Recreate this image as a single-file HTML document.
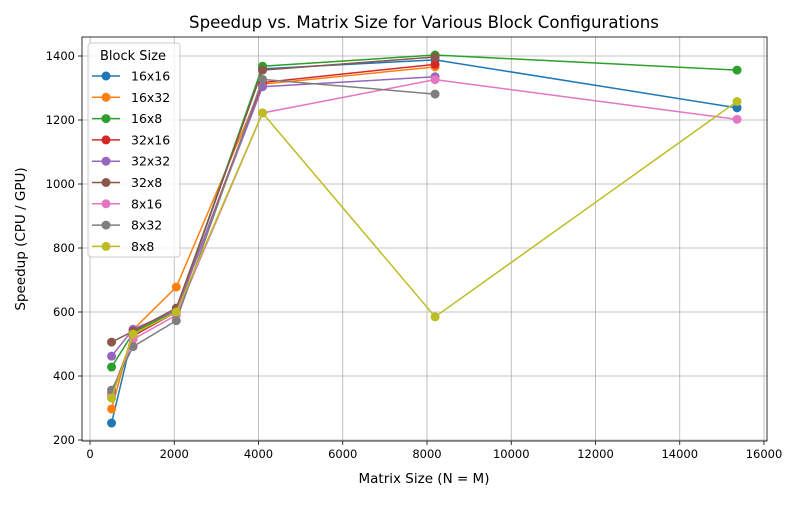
<!DOCTYPE html>
<html><head><meta charset="utf-8"><style>
body{margin:0;background:#fff;font-family:"Liberation Sans","DejaVu Sans",sans-serif}
svg text{font-family:"DejaVu Sans","Liberation Sans",sans-serif;fill:#000}
</style></head><body>
<svg id="chart" width="800" height="500" xmlns="http://www.w3.org/2000/svg">
<rect width="800" height="500" fill="#fff"/>
<g id="grid"></g>
<g id="series"></g>
<rect x="82" y="37" width="685" height="404" fill="none" stroke="#000" stroke-width="0.8"/>
<g id="ticks"></g>
<text x="424" y="28" font-size="16.6" text-anchor="middle">Speedup vs. Matrix Size for Various Block Configurations</text>
<text x="424" y="483" font-size="13.5" text-anchor="middle">Matrix Size (N = M)</text>
<text transform="translate(25,239) rotate(-90)" font-size="13.5" text-anchor="middle">Speedup (CPU / GPU)</text>
<g id="legend"></g>
</svg>
<script>
const sizes=[512,1024,2048,4096,8192,15360];
const names=["16x16","16x32","16x8","32x16","32x32","32x8","8x16","8x32","8x8"];
const colors=["#1f77b4","#ff7f0e","#2ca02c","#d62728","#9467bd","#8c564b","#e377c2","#7f7f7f","#bcbd22"];
const s16x16=[253,535,605,1360,1388,1238];
const s16x32=[297,545,678,1312,1366];
const s16x8=[428,535,605,1368,1403,1356];
const s32x16=[344,525,600,1317,1374];
const s32x32=[462,546,605,1304,1335];
const s32x8=[506,540,612,1356,1397];
const s8x16=[338,515,590,1222,1326,1202];
const s8x32=[356,492,573,1327,1281];
const s8x8=[331,531,600,1222,585,1258];
const seriesData=[s16x16,s16x32,s16x8,s32x16,s32x32,s32x8,s8x16,s8x32,s8x8];
const xTicks=[0,2000,4000,6000,8000,10000,12000,14000,16000];
const yTicks=[200,400,600,800,1000,1200,1400];
const X=v=>90+v*674/16000;
const Y=v=>440-(v-200)*0.32;
const NS="http://www.w3.org/2000/svg";
function mk(t,a,p){const e=document.createElementNS(NS,t);for(const k in a)e.setAttribute(k,a[k]);p.appendChild(e);return e;}
const grid=document.getElementById('grid'),ticks=document.getElementById('ticks');
xTicks.forEach(v=>{
 const l=mk('line',{x1:X(v),x2:X(v),y1:37,y2:441,stroke:'#b0b0b0','stroke-width':0.8},grid);
 
 
 mk('line',{x1:X(v),x2:X(v),y1:441,y2:445,stroke:'#000','stroke-width':0.8},ticks);
 const t=mk('text',{x:X(v),y:458,'font-size':11.5,'text-anchor':'middle'},ticks);t.textContent=v;
 
 
});
yTicks.forEach(v=>{
 const l=mk('line',{x1:82,x2:767,y1:Y(v),y2:Y(v),stroke:'#b0b0b0','stroke-width':0.8},grid);
 
 
 mk('line',{x1:78,x2:82,y1:Y(v),y2:Y(v),stroke:'#000','stroke-width':0.8},ticks);
 const t=mk('text',{x:75,y:Y(v)+4,'font-size':11.5,'text-anchor':'end'},ticks);t.textContent=v;
 
 
});
const sg=document.getElementById('series');
seriesData.forEach((d,i)=>{
 const g=mk('g',{},sg);
 
 
 const pts=d.map((v,j)=>X(sizes[j])+','+Y(v)).join(' ');
 mk('polyline',{points:pts,fill:'none',stroke:colors[i],'stroke-width':1.5},g);
 d.forEach((v,j)=>{
  const c=mk('circle',{cx:X(sizes[j]),cy:Y(v),r:4.5,fill:colors[i]},g);
  
  
 });
});
const lg=document.getElementById('legend');
mk('rect',{x:88,y:43,width:92,height:214,rx:3,fill:'#fff','fill-opacity':0.8,stroke:'#ccc'},lg);
const lt=mk('text',{x:133,y:60,'font-size':13,'text-anchor':'middle'},lg);lt.textContent='Block Size';


names.forEach((n,i)=>{
 const y=76+i*21.3;
 const g=mk('g',{},lg);
 
 
 mk('line',{x1:92,x2:120,y1:y,y2:y,stroke:colors[i],'stroke-width':1.5},g);
 mk('circle',{cx:106,cy:y,r:4.5,fill:colors[i]},g);
 const t=mk('text',{x:131,y:y+4.5,'font-size':12.5},g);t.textContent=n;
});
</script>
</body></html>
